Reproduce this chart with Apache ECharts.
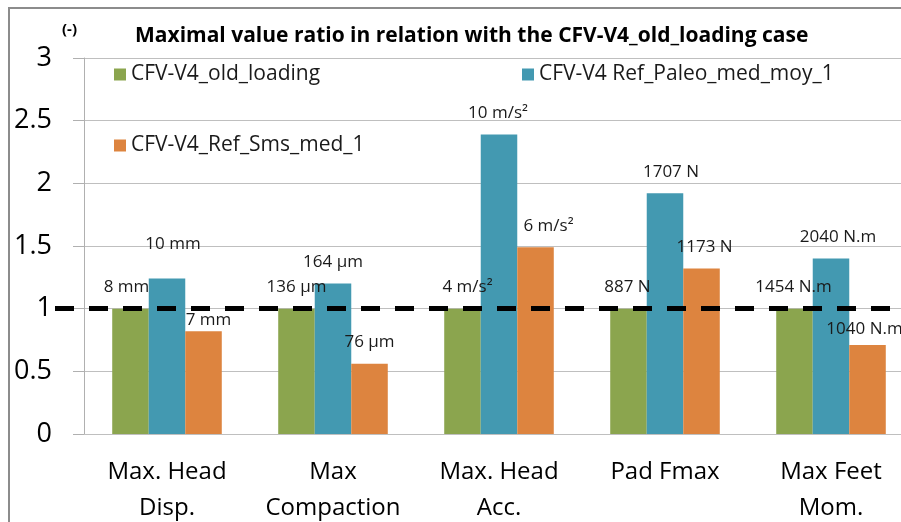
<!DOCTYPE html>
<html>
<head>
<meta charset="utf-8">
<script src="https://cdn.jsdelivr.net/npm/echarts@6/dist/echarts.min.js"></script>
<style>
  html, body { margin: 0; padding: 0; background: #fff; }
  #chart { width: 901px; height: 522px; }
</style>
</head>
<body>
<div id="chart"></div>
<script>
// ratios to the CFV-V4_old_loading case
const categories = ['Max. Head\nDisp.', 'Max\nCompaction', 'Max. Head\nAcc.', 'Pad Fmax', 'Max Feet\nMom.'];
const seriesNames = ['CFV-V4_old_loading', 'CFV-V4 Ref_Paleo_med_moy_1', 'CFV-V4_Ref_Sms_med_1'];
const oldLoading = [1, 1, 1, 1, 1];
const refPaleo = [1.24, 1.2, 2.39, 1.92, 1.4];
const refSms = [0.82, 0.56, 1.49, 1.32, 0.71];
const oldLabels = ['8 mm', '136 µm', '4 m/s²', '887 N', '1454 N.m'];
const paleoLabels = ['10 mm', '164 µm', '10 m/s²', '1707 N', '2040 N.m'];
const smsLabels = ['7 mm', '76 µm', '6 m/s²', '1173 N', '1040 N.m'];
const refLine = 1;

const FONT = '"Open Sans", "Noto Sans", sans-serif';
const colors = ['#8ba54e', '#4399b1', '#dd843f'];

// small label shifts as placed in the original (px)
const nudges = [
  [[-4, 0], [0, 0], [5, 0], [-1, 0], [-1, 0]],
  [[6, -13], [0, 0], [-1, 0], [6, 0], [7, 0]],
  [[5, 10], [0, 0], [13, 0], [3, 0], [-3, 6]]
];

const makeSeries = (i, values, labels) => ({
  name: seriesNames[i],
  type: 'bar',
  barGap: '0%',
  barCategoryGap: '34%',
  itemStyle: { color: colors[i] },
  label: {
    show: true,
    position: 'top',
    distance: 13,
    fontSize: 17,
    fontFamily: FONT,
    color: '#1a1a1a'
  },
  data: values.map((v, j) => ({
    value: v,
    label: { formatter: labels[j], offset: nudges[i][j] }
  }))
});

const series = [
  makeSeries(0, oldLoading, oldLabels),
  makeSeries(1, refPaleo, paleoLabels),
  makeSeries(2, refSms, smsLabels)
];

// dashed reference line at ratio 1
series[2].markLine = {
  silent: true,
  symbol: ['none', 'none'],
  label: { show: false },
  lineStyle: { color: '#000', width: 5, type: [19, 15] },
  data: [[
    { coord: [0, refLine], x: 55 },
    { coord: [categories.length - 1, refLine], x: 901 }
  ]]
};

const legendBase = {
  selectedMode: false,
  padding: 0,
  icon: 'rect',
  itemWidth: 12,
  itemHeight: 12,
  itemGap: 0,
  textStyle: { fontSize: 21, fontFamily: FONT, color: '#1a1a1a' }
};

const chart = echarts.init(document.getElementById('chart'));
chart.setOption({
  backgroundColor: '#fff',
  animation: false,
  title: [
    {
      text: 'Maximal value ratio in relation with the CFV-V4_old_loading case',
      left: 135,
      top: 26,
      padding: 0,
      textStyle: { fontSize: 21, fontWeight: 'bold', fontFamily: FONT, color: '#000' }
    },
    {
      text: '(-)',
      left: 62,
      top: 22,
      padding: 0,
      textStyle: { fontSize: 15, fontWeight: 'bold', fontFamily: FONT, color: '#000' }
    }
  ],
  legend: [
    Object.assign({}, legendBase, { data: [seriesNames[0]], left: 114, top: 64 }),
    Object.assign({}, legendBase, { data: [seriesNames[1]], left: 522, top: 64 }),
    Object.assign({}, legendBase, { data: [seriesNames[2]], left: 114, top: 135 })
  ],
  grid: { left: 84, top: 58, width: 830, bottom: 88, containLabel: false, outerBoundsMode: 'none' },
  xAxis: {
    type: 'category',
    data: categories,
    axisLine: { lineStyle: { color: '#bfbfbf', width: 1 } },
    axisTick: { show: false },
    axisLabel: { interval: 0, margin: 20, fontSize: 24, lineHeight: 36, fontFamily: FONT, color: '#000' }
  },
  yAxis: {
    type: 'value',
    min: 0,
    max: 3,
    interval: 0.5,
    axisLine: { show: true, lineStyle: { color: '#b0b0b0' } },
    axisTick: { show: true, length: 11, lineStyle: { color: '#b0b0b0' } },
    axisLabel: { margin: 32, fontSize: 27, fontFamily: FONT, color: '#000' },
    splitLine: { lineStyle: { color: '#bfbfbf' } }
  },
  graphic: [{
    type: 'rect',
    silent: true,
    z: -1,
    shape: { x: 9, y: 8, width: 1000, height: 1000 },
    style: { fill: 'none', stroke: '#8c8c8c', lineWidth: 2 }
  }],
  series: series
});
</script>
</body>
</html>
